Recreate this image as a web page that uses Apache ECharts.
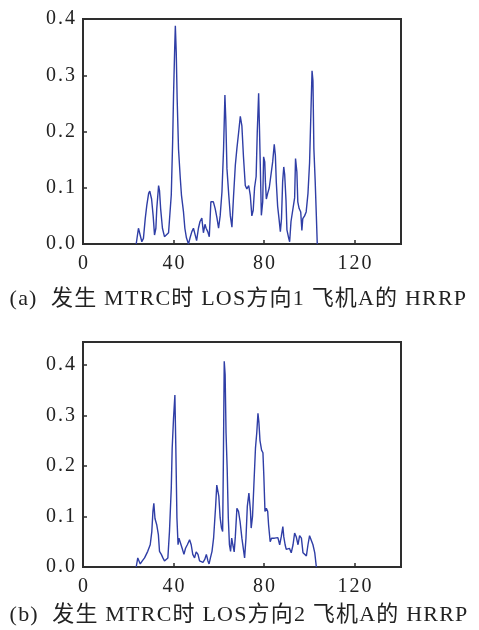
<!DOCTYPE html>
<html>
<head>
<meta charset="utf-8">
<script src="https://cdn.jsdelivr.net/npm/echarts@6/dist/echarts.min.js"></script>
<style>
  html, body { margin: 0; padding: 0; background: #fff; }
  #main { width: 479px; height: 630px; }
</style>
</head>
<body>
<div id="main"></div>
<script>
// 距离单元 (横轴) 与归一化幅度 (纵轴)
const rangeA = [23.5, 24.5, 25.2, 26, 26.7, 27.5, 28.2, 29, 29.5, 30.3, 31, 31.6, 32.2, 32.6, 33.4, 33.8, 34.3, 35.1, 36, 36.8,
  37.8, 38.5, 39, 39.6, 40, 40.5, 40.8, 41.2, 41.6, 42.2, 43, 43.5, 44.4, 45, 45.7, 46.6, 47.3, 48.1, 48.8, 49.5,
  50.2, 51, 51.7, 52.5, 53.2, 53.9, 54.4, 55.1, 55.8, 56.5, 57.6, 58.4, 59.2, 59.9, 60.6, 61.4, 62.1, 62.7, 63.1, 63.6,
  64.4, 65.1, 65.8, 66.5, 67.3, 68, 68.7, 69.5, 70.2, 70.9, 71.7, 72.4, 73.2, 73.9, 74.6, 75.2, 75.8, 76.5, 77, 77.6,
  78, 78.3, 78.8, 79.4, 79.8, 80.3, 80.6, 81, 81.6, 82.3, 83, 83.8, 84.5, 85, 85.4, 86, 86.6, 87.2, 87.7, 88.2,
  88.7, 89.1, 89.7, 90.1, 90.9, 91.3, 91.9, 92.6, 93.5, 93.9, 94.5, 94.9, 95.5, 96.2, 96.7, 97.1, 97.9, 98.6, 99.4, 100.1,
  100.7, 101.2, 101.6, 102, 102.6, 103.1, 103.5]
const hrrpA = [0, 0.028, 0.025, 0.004, 0.01, 0.045, 0.069, 0.09, 0.094, 0.08, 0.05, 0.016, 0.028, 0.063, 0.104, 0.095, 0.063, 0.028, 0.013, 0.01,
  0.02, 0.022, 0.087, 0.181, 0.264, 0.346, 0.388, 0.34, 0.258, 0.169, 0.116, 0.087, 0.057, 0.028, 0.011, 0, 0.011, 0.022, 0.028, 0.017,
  0.006, 0.028, 0.04, 0.046, 0.02, 0.035, 0.028, 0.022, 0.013, 0.075, 0.075, 0.063, 0.046, 0.028, 0.05, 0.093, 0.169, 0.265, 0.22, 0.134,
  0.087, 0.05, 0.03, 0.084, 0.14, 0.17, 0.196, 0.227, 0.21, 0.155, 0.104, 0.098, 0.104, 0.087, 0.05, 0.06, 0.1, 0.12, 0.2, 0.268,
  0.2, 0.146, 0.051, 0.075, 0.155, 0.146, 0.11, 0.08, 0.09, 0.1, 0.1, 0.146, 0.177, 0.157, 0.11, 0.067, 0.045, 0.022, 0.045, 0.11,
  0.137, 0.124, 0.077, 0.025, 0.01, 0.004, 0.04, 0.04, 0.082, 0.152, 0.128, 0.075, 0.063, 0.057, 0.024, 0.045, 0.05, 0.057, 0.09, 0.144,
  0.234, 0.308, 0.29, 0.17, 0.11, 0.05, 0]

const rangeB = [23.5, 24.2, 24.8, 25.3, 26.2, 27.2, 28.6, 29.7, 30.4, 30.9, 31.3, 31.8, 32.6, 33.3, 33.8, 34.6, 35.3, 36, 36.8, 37.5,
  38.2, 39, 39.4, 40, 40.6, 41, 41.5, 42, 42.4, 43.1, 43.8, 44.6, 45.3, 46.1, 47.1, 47.8, 48.5, 49.3, 50, 50.8,
  51.5, 52.2, 53, 53.8, 54.5, 55.2, 55.7, 56.3, 57, 57.7, 58.6, 59.1, 59.7, 60, 60.6, 61.2, 61.7, 62, 62.4, 62.8,
  63.2, 63.7, 64.2, 64.7, 65.2, 65.7, 66.2, 66.8, 67.3, 68, 68.7, 69.4, 70.2, 71, 71.4, 72, 72.6, 73.3, 73.6, 74,
  74.3, 74.9, 75.5, 76.2, 76.8, 77.3, 77.7, 78.2, 78.9, 79.5, 79.9, 80.4, 81, 81.6, 82, 82.7, 83.3, 83.9, 84.6, 85.4,
  86.1, 86.9, 87.6, 88.3, 88.7, 89.3, 89.8, 90.5, 91.2, 92, 92.8, 93.5, 94.2, 95, 95.7, 96.5, 97.2, 98, 98.7, 99.4,
  100.1, 100.9, 101.6, 102.4, 103.1]
const hrrpB = [0, 0.018, 0.015, 0.006, 0.012, 0.018, 0.031, 0.044, 0.07, 0.11, 0.126, 0.096, 0.083, 0.064, 0.031, 0.025, 0.018, 0.012, 0.015, 0.018,
  0.07, 0.156, 0.235, 0.294, 0.34, 0.24, 0.097, 0.044, 0.057, 0.057, 0.037, 0.025, 0.037, 0.044, 0.054, 0.044, 0.025, 0.018, 0.03, 0.025,
  0.012, 0.012, 0.009, 0.015, 0.025, 0.012, 0.006, 0.018, 0.031, 0.057, 0.12, 0.162, 0.165, 0.14, 0.097, 0.077, 0.07, 0.2, 0.407, 0.38,
  0.265, 0.195, 0.097, 0.044, 0.031, 0.057, 0.044, 0.03, 0.06, 0.116, 0.11, 0.09, 0.057, 0.031, 0.018, 0.057, 0.12, 0.146, 0.143, 0.11,
  0.077, 0.1, 0.162, 0.235, 0.267, 0.304, 0.287, 0.25, 0.231, 0.226, 0.18, 0.11, 0.116, 0.11, 0.083, 0.05, 0.057, 0.06, 0.057, 0.06,
  0.058, 0.044, 0.06, 0.08, 0.06, 0.044, 0.035, 0.035, 0.037, 0.028, 0.044, 0.067, 0.06, 0.044, 0.062, 0.057, 0.028, 0.028, 0.022, 0.044,
  0.062, 0.062, 0.044, 0.028, 0]

const xTicks = [0, 40, 80, 120]
const captionA = '(a)  发生 MTRC时 LOS方向1 飞机A的 HRRP'
const captionB = '(b)  发生 MTRC时 LOS方向2 飞机A的 HRRP'

const fontFam = "'Liberation Serif', 'Times New Roman', 'Noto Sans CJK SC', serif"
const axisColor = '#2e2e2e'
const lineColor = '#2f3ea6'

function zip(xs, ys) {
  let out = []
  for (let i = 0; i < xs.length; i++) {
    out.push([xs[i], ys[i]])
  }
  return out
}

// 每个字符单独成段, 用 padding 模拟原图较宽的字距
function spaced(str) {
  return str.split('').map(ch => '{c|' + ch + '}').join('')
}

function makeX(idx) {
  return {
    type: 'value',
    gridIndex: idx,
    min: 0,
    max: 140.5,
    interval: 40,
    axisLine: { show: true, onZero: false, lineStyle: { color: axisColor, width: 2 } },
    axisTick: { show: true, inside: true, length: 4, lineStyle: { color: axisColor, width: 1.5 } },
    splitLine: { show: false },
    axisLabel: {
      margin: 10,
      showMaxLabel: false,
      formatter: function (v) {
        return xTicks.indexOf(v) >= 0 ? spaced(String(v)) : ''
      },
      rich: { c: { fontSize: 20, fontFamily: fontFam, color: '#222', padding: [0, 1] } }
    }
  }
}

function makeY(idx, max) {
  return {
    type: 'value',
    gridIndex: idx,
    min: 0,
    max: max,
    interval: 0.1,
    axisLine: { show: true, lineStyle: { color: axisColor, width: 2 } },
    axisTick: { show: true, inside: true, length: 4, lineStyle: { color: axisColor, width: 1.5 } },
    splitLine: { show: false },
    axisLabel: {
      margin: 7,
      formatter: function (v) {
        let r = Math.round(v * 10) / 10
        return Math.abs(r - v) < 1e-6 ? spaced(r.toFixed(1)) : ''
      },
      rich: { c: { fontSize: 20, fontFamily: fontFam, color: '#222', padding: [0, 1] } }
    }
  }
}

function makeSeries(idx, data) {
  return {
    type: 'line',
    xAxisIndex: idx,
    yAxisIndex: idx,
    data: data,
    showSymbol: false,
    symbol: 'none',
    animation: false,
    lineStyle: { color: lineColor, width: 1.4 },
    clip: true
  }
}

function makeCaption(text, top) {
  return {
    text: spaced(text),
    left: 4,
    top: top,
    textStyle: {
      fontWeight: 'normal',
      rich: { c: { fontSize: 22, fontWeight: 'normal', fontFamily: fontFam, color: '#222', padding: [0, 0.6] } }
    }
  }
}

let chart = echarts.init(document.getElementById('main'), null, { renderer: 'canvas' })
let option = {
  backgroundColor: '#fff',
  animation: false,
  grid: [
    { left: 83, top: 19, width: 318, height: 225, show: true, borderColor: axisColor, borderWidth: 2, backgroundColor: 'transparent' },
    { left: 83, top: 342, width: 318, height: 225, show: true, borderColor: axisColor, borderWidth: 2, backgroundColor: 'transparent' }
  ],
  xAxis: [makeX(0), makeX(1)],
  yAxis: [makeY(0, 0.4), makeY(1, 0.445)],
  series: [makeSeries(0, zip(rangeA, hrrpA)), makeSeries(1, zip(rangeB, hrrpB))],
  title: [makeCaption(captionA, 283), makeCaption(captionB, 599)]
}
chart.setOption(option)
</script>
</body>
</html>
